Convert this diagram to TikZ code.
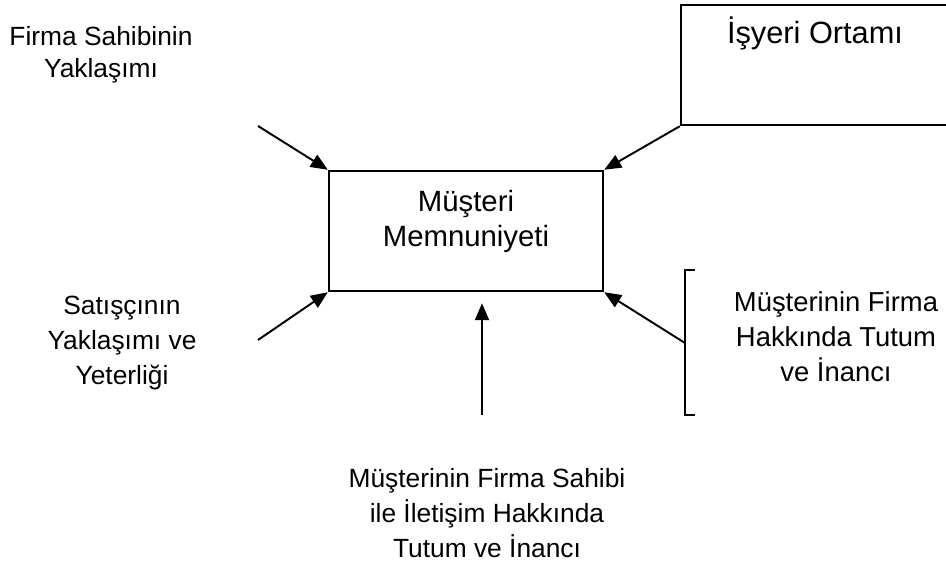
\documentclass[tikz,border=0pt]{standalone}
\usepackage{fontspec}
\setmainfont{Liberation Sans}
\usetikzlibrary{arrows.meta}
\tikzstyle{factor} = [align=center, inner sep=0pt, font=\fontsize{15}{20}\selectfont]
\tikzstyle{mainbox} = [rectangle, draw=black, line width=1.4pt, minimum width=5.48cm, minimum height=2.4cm, text depth=0.5cm, align=center, font=\fontsize{16.7}{20}\selectfont]
\tikzstyle{envbox} = [rectangle, draw=black, line width=1.4pt, minimum width=5.36cm, minimum height=2.4cm, inner ysep=0.2cm, text height=0.56cm, text depth=1.44cm, font=\fontsize{17.5}{20}\selectfont]
\tikzstyle{arrow} = [line width=1.1pt, -{Triangle[length=0.34cm, width=0.28cm]}]

\begin{document}
\begin{tikzpicture}[x=0.02cm, y=-0.02cm]
    \useasboundingbox (0,0) rectangle (946,561);
    % Nodes
    \node (mm) [mainbox] at (466,231) {Müşteri\\Memnuniyeti};
    \node (isyeri) [envbox] at (815,65) {İşyeri Ortamı};
    \node (firma) [factor, font=\fontsize{15}{18}\selectfont] at (101,55) {Firma Sahibinin\\Yaklaşımı};
    \node (satisci) [factor] at (122,343) {Satışçının\\Yaklaşımı ve\\Yeterliği};
    \node (iletisim) [factor] at (487,513) {Müşterinin Firma Sahibi\\ile İletişim Hakkında\\Tutum ve İnancı};
    \node (tutum) [factor, font=\fontsize{15.6}{20}\selectfont] at (836,337) {Müşterinin Firma\\Hakkında Tutum\\ve İnancı};
    \coordinate (f1) at (258,126);
    \coordinate (s1) at (258,340);
    \coordinate (i1) at (482,415);
    \coordinate (br) at (685,343);

    % Bracket
    \draw [line width=0.8pt] (695,270) -- (685,270) -- (685,415) -- (695,415);

    % Arrows
    \draw [arrow] (f1) -- (mm.north west);
    \draw [arrow] (isyeri.south west) -- (mm.north east);
    \draw [arrow] (s1) -- (mm.south west);
    \draw [arrow, shorten >=0.22cm] (i1) -- (mm.south -| i1);
    \draw [arrow] (br) -- (mm.south east);
\end{tikzpicture}
\end{document}
